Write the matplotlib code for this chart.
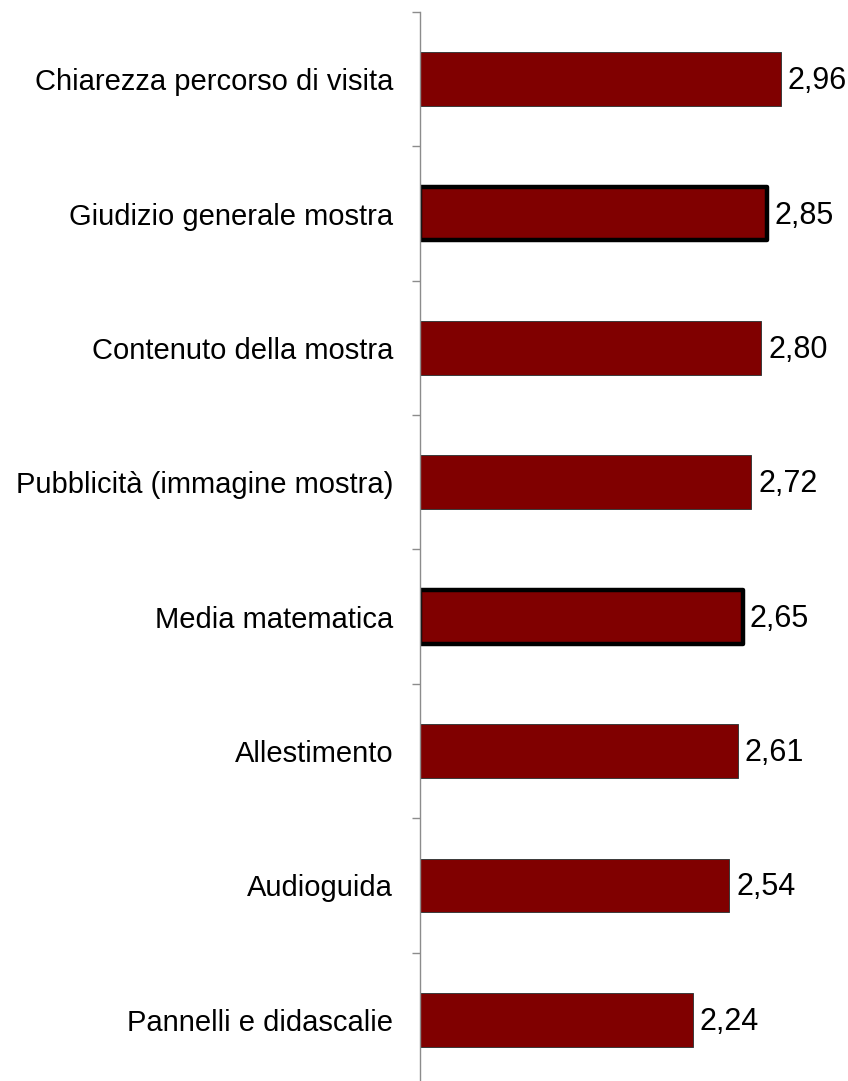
import matplotlib.pyplot as plt
import numpy as np

categories = [
    "Chiarezza percorso di visita",
    "Giudizio generale mostra",
    "Contenuto della mostra",
    "Pubblicità (immagine mostra)",
    "Media matematica",
    "Allestimento",
    "Audioguida",
    "Pannelli e didascalie",
]
values = [2.96, 2.85, 2.80, 2.72, 2.65, 2.61, 2.54, 2.24]
highlighted = [False, True, False, False, True, False, False, False]

plt.rcParams['font.family'] = ['Liberation Sans', 'DejaVu Sans']

W, H = 848, 1081
fig = plt.figure(figsize=(W / 100, H / 100), dpi=100)
# axis spine at x=419.5 px, 122 px per unit, categories from y=12 to y=1087
x0, ppu = 419.5, 122.0
xmax = 3.5
ax = fig.add_axes([x0 / W, 1 - 1087 / H, xmax * ppu / W, 1075 / H])

y = np.arange(len(categories))
bars = ax.barh(y, values, height=0.40, color='#800000',
               edgecolor='#3a3a3a', linewidth=0.7)
for bar, hl in zip(bars, highlighted):
    if hl:
        bar.set_edgecolor('black')
        bar.set_linewidth(3.2)
        bar.set_joinstyle('round')

for yi, v in zip(y, values):
    ax.annotate(f"{v:.2f}".replace('.', ','), xy=(v, yi), xytext=(7, -2),
                textcoords='offset pixels', va='center', ha='left',
                fontsize=22, color='black', annotation_clip=False)

ax.set_xlim(0, xmax)
ax.set_ylim(len(categories) - 0.5, -0.5)

ax.set_yticks(y)
ax.set_yticklabels(categories, fontsize=21)
ax.tick_params(axis='y', which='major', length=0, pad=19)
ax.set_yticks(np.arange(len(categories) + 1) - 0.5, minor=True)
ax.tick_params(axis='y', which='minor', length=6, width=1.0,
               color='#8c8c8c', direction='out')
ax.set_xticks([])

for s in ['top', 'right', 'bottom']:
    ax.spines[s].set_visible(False)
ax.spines['left'].set_color('#8c8c8c')
ax.spines['left'].set_linewidth(1.0)

fig.savefig('out.png', dpi=100)
